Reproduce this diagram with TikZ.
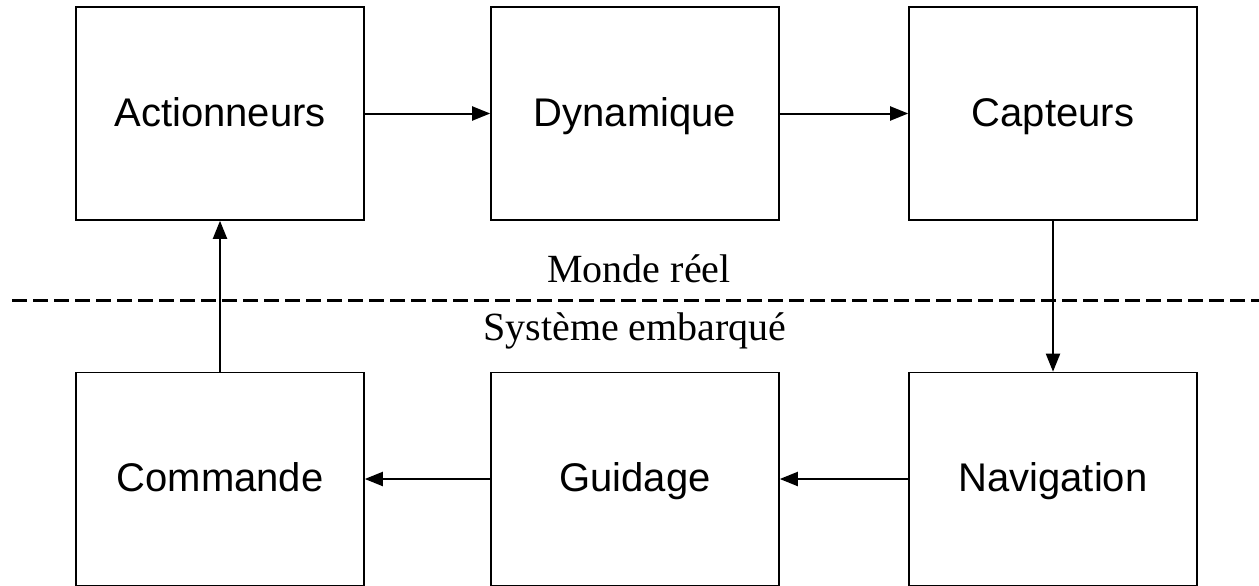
\documentclass[tikz,border=0pt]{standalone}
\usepackage{fontspec}
\setmainfont{Liberation Serif}
\setsansfont{Liberation Sans}
\usetikzlibrary{arrows.meta}

\tikzset{
  bloc/.style={draw, line width=1.6pt, minimum width=288pt, minimum height=213pt,
    inner sep=0pt, text height=29pt, text depth=4pt,
    font=\sffamily\fontsize{40}{48}\selectfont},
  fleche/.style={line width=2pt, -{Triangle[length=18pt,width=14pt]}},
  monde/.style={anchor=base, inner sep=0pt, font=\fontsize{40}{48}\selectfont},
}

\begin{document}
\begin{tikzpicture}[x=1pt,y=-1pt]
            \useasboundingbox (0,0) rectangle (1259,586);

            % chaine du monde reel
            \node[bloc] (act) at (220,113.5) {Actionneurs};
            \node[bloc] (dyn) at (635,113.5) {Dynamique};
            \node[bloc] (cap) at (1053,113.5) {Capteurs};

            % chaine embarquee
            \node[bloc] (com) at (220,479) {Commande};
            \node[bloc] (gui) at (635,479) {Guidage};
            \node[bloc] (nav) at (1053,479) {Navigation};

            % separation
            \coordinate (sepG) at (12,300);
            \coordinate (sepD) at (1259,300);
            \draw[line width=3pt, dash pattern=on 15pt off 6pt] (sepG) -- (sepD);
            \node[monde] (reel) at (639,282) {Monde réel};
            \node[monde] (emb) at (635,340) {Système embarqué};

            \draw[fleche] (act) -- (dyn);
            \draw[fleche] (dyn) -- (cap);
            \draw[fleche] (cap) -- (nav);
            \draw[fleche] (nav) -- (gui);
            \draw[fleche] (gui) -- (com);
            \draw[fleche] (com) -- (act);

\end{tikzpicture}
\end{document}
